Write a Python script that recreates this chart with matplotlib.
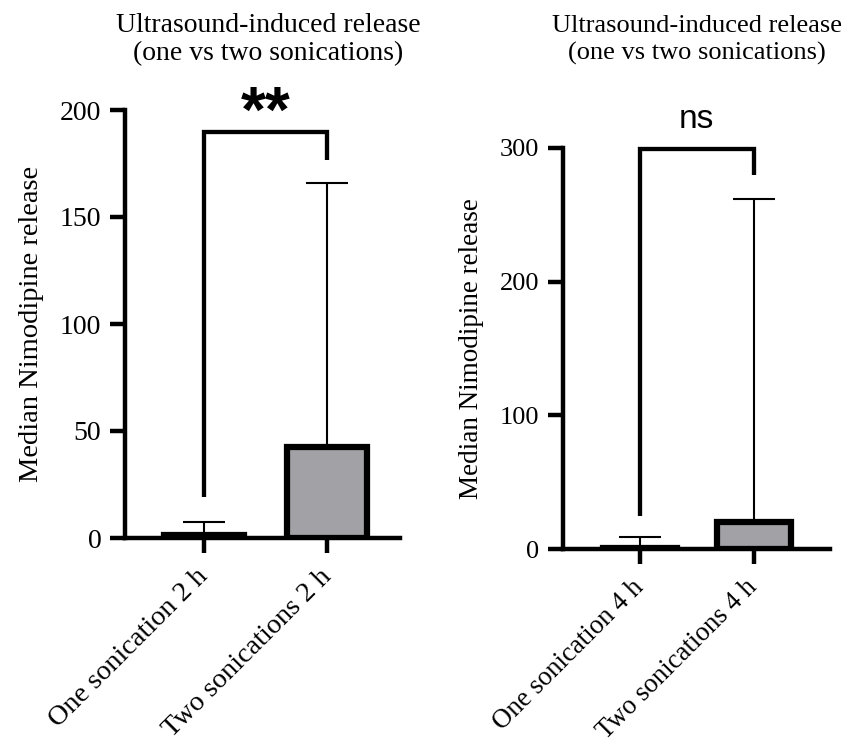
import matplotlib.pyplot as plt
import numpy as np

# data
left_labels = ["One sonication 2 h", "Two sonications 2 h"]
left_medians = [1.5, 42.5]
left_upper = [7.5, 166.0]
left_bracket = [19.0, 189.5, 176.5]   # left foot, top, right foot
left_sig = "**"

right_labels = ["One sonication 4 h", "Two sonications 4 h"]
right_medians = [0.6, 20.0]
right_upper = [9.0, 262.0]
right_bracket = [25.0, 299.0, 280.0]
right_sig = "ns"

title = ["Ultrasound-induced release", "(one vs two sonications)"]
ylab = "Median Nimodipine release"

serif = "Liberation Serif"
sans = "Liberation Sans"
W, H = 848, 747


def panel(fig, rect, labels, med, upper, bracket, ylim, yticks, xlim, label_x, fs):
    ax = fig.add_axes(rect)
    x = np.arange(len(labels))
    ax.bar(x, med, width=0.65, color="#a2a1a6", edgecolor="black", linewidth=4.5, zorder=2)
    med = np.array(med)
    err = np.array(upper) - med
    ax.errorbar(x, med, yerr=[np.zeros_like(med), err], fmt="none", ecolor="black",
                elinewidth=1.5, capsize=15, capthick=1.5, zorder=1)
    # significance bracket
    bl, bt, br = bracket
    ax.plot([0, 0, 1, 1], [bl, bt, bt, br], color="black", lw=3.1, clip_on=False,
            solid_capstyle="butt", solid_joinstyle="miter")
    ax.set_xlim(xlim)
    ax.set_ylim(ylim)
    ax.set_yticks(yticks)
    ax.set_xticks(x)
    ax.set_xticklabels(labels, rotation=45, ha="right", va="center", rotation_mode="anchor",
                       fontsize=fs + 0.3, fontfamily=serif)
    for t in ax.get_yticklabels():
        t.set_fontfamily(serif)
        t.set_fontsize(fs)
    ax.tick_params(width=3.2, length=11, direction="out")
    ax.tick_params(axis="y", pad=6)
    ax.tick_params(axis="x", pad=14)
    for s in ["top", "right"]:
        ax.spines[s].set_visible(False)
    for s in ["left", "bottom"]:
        ax.spines[s].set_linewidth(3.2)
    ax.set_ylabel(ylab, fontsize=fs + 0.5, fontfamily=serif)
    ax.yaxis.set_label_coords(label_x, 0.5)
    return ax


fig = plt.figure(figsize=(W / 100, H / 100), dpi=100)

# left panel: axis 125..400 px, y 110..538 px
ax1 = panel(fig, [125 / W, 1 - 538 / H, 275 / W, 428 / H], left_labels, left_medians,
            left_upper, left_bracket, (0, 200), [0, 50, 100, 150, 200],
            (-0.64, 1.59), -0.295, 20)
ax1.text(0.5, 190, left_sig, ha="center", va="baseline", fontsize=46,
         fontfamily=sans, fontweight="bold")

# right panel: axis 563..830 px, y 148..549 px
ax2 = panel(fig, [563 / W, 1 - 549 / H, 267 / W, 401 / H], right_labels, right_medians,
            right_upper, right_bracket, (0, 300), [0, 100, 200, 300],
            (-0.675, 1.67), -0.296, 19)
ax2.text(0.5, 315, right_sig, ha="center", va="baseline", fontsize=24, fontfamily=sans)

# titles, two lines each, centred over the axes
for cx, fs in ((268, 20), (697, 19)):
    fig.text(cx / W, 1 - 32 / H, title[0], ha="center", va="baseline",
             fontsize=fs, fontfamily=serif)
    fig.text(cx / W, 1 - 60 / H, title[1], ha="center", va="baseline",
             fontsize=fs, fontfamily=serif)

fig.savefig("out.png", dpi=100)
